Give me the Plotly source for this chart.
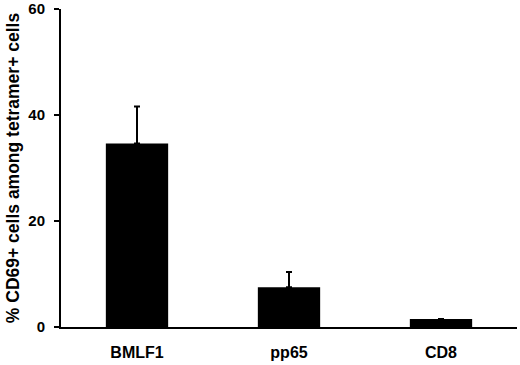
import plotly.graph_objects as go

categories = ["BMLF1", "pp65", "CD8"]
values = [34.6, 7.5, 1.5]
errors_up = [7.0, 2.9, 0.0]
y_ticks = [0, 20, 40, 60]

font_family = "Liberation Sans, Arial, sans-serif"

fig = go.Figure(
    go.Bar(
        x=categories,
        y=values,
        width=0.41,
        marker=dict(color="black", line=dict(width=0)),
        error_y=dict(
            type="data",
            symmetric=False,
            array=errors_up,
            arrayminus=[0] * len(errors_up),
            color="black",
            thickness=2,
            width=3,
            visible=True,
        ),
    )
)

fig.update_layout(
    width=520,
    height=365,
    margin=dict(l=61, r=3, t=9, b=38),
    plot_bgcolor="white",
    paper_bgcolor="white",
    showlegend=False,
    font=dict(family=font_family, color="black"),
)

fig.update_xaxes(
    range=[-0.5, 2.5],
    automargin=False,
    showline=True,
    linecolor="black",
    linewidth=2,
    ticks="",
    showgrid=False,
    zeroline=False,
    ticklabelstandoff=10,
    tickfont=dict(size=16, family=font_family, color="black", weight="bold"),
)

fig.update_yaxes(
    range=[0, 60],
    automargin=False,
    tickvals=y_ticks,
    showline=True,
    linecolor="black",
    linewidth=2,
    ticks="outside",
    ticklen=5,
    tickwidth=2,
    tickcolor="black",
    showgrid=False,
    zeroline=False,
    ticklabelstandoff=6,
    tickfont=dict(size=15, family=font_family, color="black", weight="bold"),
    title=dict(
        text="% CD69+ cells among tetramer+ cells",
        font=dict(size=17.5, family=font_family, color="black", weight="bold"),
        standoff=4,
    ),
)

fig.write_html(
    "out.html",
    config={"displayModeBar": False},
    post_script="document.body.style.margin='0px';",
)
